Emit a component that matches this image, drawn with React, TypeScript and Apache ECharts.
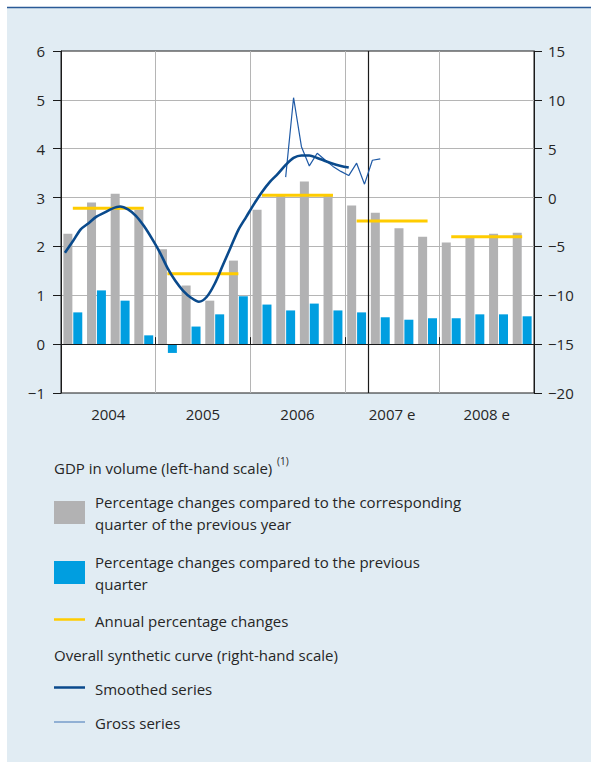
import React, { useEffect, useRef } from "react";
import * as echarts from "echarts";

// ---------- data ----------
const years = ["2004", "2005", "2006", "2007 e", "2008 e"];
const quarters = [
  "2004 Q1", "2004 Q2", "2004 Q3", "2004 Q4",
  "2005 Q1", "2005 Q2", "2005 Q3", "2005 Q4",
  "2006 Q1", "2006 Q2", "2006 Q3", "2006 Q4",
  "2007 Q1", "2007 Q2", "2007 Q3", "2007 Q4",
  "2008 Q1", "2008 Q2", "2008 Q3", "2008 Q4",
];
// GDP y-o-y (% change vs same quarter previous year), left scale
const yoyGrowth = [
  2.26, 2.9, 3.08, 2.75,
  1.94, 1.2, 0.89, 1.71,
  2.75, 3.07, 3.33, 3.03,
  2.84, 2.69, 2.37, 2.2,
  2.08, 2.18, 2.26, 2.28,
];
// GDP q-o-q (% change vs previous quarter), left scale
const qoqGrowth = [
  0.65, 1.1, 0.89, 0.18,
  -0.18, 0.36, 0.61, 0.98,
  0.81, 0.69, 0.83, 0.69,
  0.65, 0.55, 0.5, 0.53,
  0.53, 0.61, 0.61, 0.57,
];
// Annual percentage changes, left scale
const annualGrowth = [2.78, 1.44, 3.05, 2.52, 2.2];
// Overall synthetic curve, smoothed (monthly from Jan 2004), right scale
const smoothedSeries = [
  -5.65, -4.48, -3.25, -2.62, -1.95, -1.54, -1.13, -0.92, -1.21, -1.87, -2.89, -4.15,
  -5.55, -7.19, -8.52, -9.54, -10.25, -10.66, -10.15, -8.82, -6.98, -5.14, -3.3, -1.97,
  -0.64, 0.58, 1.61, 2.42, 3.34, 4.06, 4.31, 4.31, 4.06, 3.75, 3.45, 3.24,
  3.07,
];
// Overall synthetic curve, gross (monthly from May 2006), right scale
const grossStartMonth = 28;
const grossSeries = [2.09, 10.22, 5.21, 3.24, 4.54, 3.85, 3.19, 2.68, 2.25, 3.52, 1.37, 3.82, 3.96];
// forecast boundary (month index from Jan 2004: start of April 2007)
const forecastBoundaryMonth = 39;
const leftTicks = { min: -1, max: 6, interval: 1 };
const rightTicks = { min: -20, max: 15, interval: 5 };

// ---------- styles ----------
const FONT = '"Open Sans", "Noto Sans", sans-serif';
const TEXT = "#262626";
const GRAY_BAR = "#b2b2b3";
const BLUE_BAR = "#009ee0";
const YELLOW = "#ffcc00";
const NAVY = "#0a4a8c";
const GROSS = "#1f5aa6";
const GRID = "#b5b5b5";
const AXIS = "#1a1a1a";

const minus = (v: number) => String(v).replace("-", "\u2212");

export default function App() {
  const ref = useRef<HTMLDivElement>(null);

  useEffect(() => {
    if (!ref.current) return;
    const chart = echarts.init(ref.current, null, { renderer: "svg" });

    const annualSeries = annualGrowth.map((v, y) => ({
      type: "line",
      name: "Annual percentage changes " + years[y],
      xAxisIndex: 1,
      yAxisIndex: 0,
      data: quarters.map((_, q) => (Math.floor(q / 4) === y ? v : null)),
      symbol: "none",
      lineStyle: { color: YELLOW, width: 3 },
      z: 4,
      silent: true,
    }));

    const legendFont = `15px ${FONT}`;
    const txt = (text: string, x: number, y: number, font = legendFont) => ({
      type: "text",
      x,
      y,
      style: { text, font, fill: TEXT, verticalAlign: "middle", align: "left" },
    });

    const option: any = {
      animation: false,
      backgroundColor: "#e1ecf3",
      textStyle: { fontFamily: FONT },
      grid: {
        left: 61,
        right: 57,
        top: 51,
        bottom: 369,
        show: true,
        backgroundColor: "#ffffff",
        borderColor: AXIS,
        borderWidth: 1,
        containLabel: false,
      },
      xAxis: [
        {
          type: "category",
          data: years,
          boundaryGap: true,
          position: "bottom",
          axisLine: { show: true, lineStyle: { color: AXIS, width: 1 } },
          axisTick: { show: true, inside: true, length: 7, lineStyle: { color: AXIS, width: 1 } },
          axisLabel: { color: TEXT, fontSize: 15, fontFamily: FONT, margin: 13 },
          splitLine: { show: true, showMinLine: false, showMaxLine: false, lineStyle: { color: GRID, width: 1 } },
        },
        {
          type: "category",
          data: quarters,
          boundaryGap: true,
          show: false,
        },
        {
          type: "value",
          min: 0,
          max: 60,
          show: false,
        },
      ],
      yAxis: [
        {
          type: "value",
          position: "left",
          min: leftTicks.min,
          max: leftTicks.max,
          interval: leftTicks.interval,
          axisLine: { show: true, lineStyle: { color: AXIS, width: 1 } },
          axisTick: { show: true, inside: false, length: 8, lineStyle: { color: AXIS, width: 1 } },
          axisLabel: { color: TEXT, fontSize: 15, fontFamily: FONT, margin: 16, formatter: minus },
          splitLine: { show: true, showMinLine: false, showMaxLine: false, lineStyle: { color: GRID, width: 1 } },
        },
        {
          type: "value",
          position: "right",
          min: rightTicks.min,
          max: rightTicks.max,
          interval: rightTicks.interval,
          axisLine: { show: true, lineStyle: { color: AXIS, width: 1 } },
          axisTick: { show: true, inside: false, length: 8, lineStyle: { color: AXIS, width: 1 } },
          axisLabel: { color: TEXT, fontSize: 15, fontFamily: FONT, margin: 14, formatter: minus },
          splitLine: { show: false },
        },
      ],
      series: [
        {
          type: "bar",
          name: "Percentage changes compared to the corresponding quarter of the previous year",
          xAxisIndex: 1,
          yAxisIndex: 0,
          data: yoyGrowth,
          barWidth: 9,
          barGap: "10%",
          itemStyle: { color: GRAY_BAR },
          z: 2,
          silent: true,
          markLine: {
            silent: true,
            symbol: "none",
            label: { show: false },
            lineStyle: { color: AXIS, width: 1, type: "solid" },
            data: [{ yAxis: 0 }],
            z: 6,
          },
        },
        {
          type: "bar",
          name: "Percentage changes compared to the previous quarter",
          xAxisIndex: 1,
          yAxisIndex: 0,
          data: qoqGrowth,
          barWidth: 9,
          barGap: "10%",
          itemStyle: { color: BLUE_BAR },
          z: 2,
          silent: true,
        },
        ...annualSeries,
        {
          type: "line",
          name: "Gross series",
          xAxisIndex: 2,
          yAxisIndex: 1,
          data: grossSeries.map((v, i) => [grossStartMonth + i + 0.5, v]),
          symbol: "none",
          lineStyle: { color: GROSS, width: 1.2 },
          z: 5,
          silent: true,
        },
        {
          type: "line",
          name: "Smoothed series",
          xAxisIndex: 2,
          yAxisIndex: 1,
          data: smoothedSeries.map((v, i) => [i + 0.5, v]),
          symbol: "none",
          smooth: 0.3,
          lineStyle: { color: NAVY, width: 2.6 },
          z: 6,
          silent: true,
          markLine: {
            silent: true,
            symbol: "none",
            label: { show: false },
            lineStyle: { color: AXIS, width: 1.2, type: "solid" },
            data: [{ xAxis: forecastBoundaryMonth }],
          },
        },
      ],
      graphic: [
        // white margin outside the panel
        { type: "rect", shape: { x: 0, y: 0, width: 591, height: 7 }, style: { fill: "#ffffff" }, silent: true },
        { type: "rect", shape: { x: 0, y: 0, width: 7, height: 762 }, style: { fill: "#ffffff" }, silent: true },
        { type: "line", shape: { x1: 7, y1: 7.5, x2: 591, y2: 7.5 }, style: { stroke: "#2a5a96", lineWidth: 1.5 }, silent: true },
        // legend
        txt("GDP in volume (left-hand scale)", 54, 468),
        txt("(1)", 277, 461, `10px ${FONT}`),
        { type: "rect", shape: { x: 54, y: 501, width: 31, height: 23 }, style: { fill: GRAY_BAR } },
        txt("Percentage changes compared to the corresponding", 95, 502),
        txt("quarter of the previous year", 95, 524),
        { type: "rect", shape: { x: 54, y: 561, width: 31, height: 23 }, style: { fill: BLUE_BAR } },
        txt("Percentage changes compared to the previous", 95, 562),
        txt("quarter", 95, 584),
        { type: "line", shape: { x1: 54, y1: 619.5, x2: 85, y2: 619.5 }, style: { stroke: YELLOW, lineWidth: 2.5 } },
        txt("Annual percentage changes", 95, 621),
        txt("Overall synthetic curve (right-hand scale)", 54, 655),
        { type: "line", shape: { x1: 54, y1: 687.5, x2: 85, y2: 687.5 }, style: { stroke: NAVY, lineWidth: 2.5 } },
        txt("Smoothed series", 95, 689),
        { type: "line", shape: { x1: 54, y1: 722, x2: 85, y2: 722 }, style: { stroke: "#5b88c0", lineWidth: 1.2 } },
        txt("Gross series", 95, 723),
      ],
    };

    chart.setOption(option);
    return () => chart.dispose();
  }, []);

  return (
    <div
      ref={ref}
      style={{ position: "fixed", left: 0, top: 0, width: 591, height: 762 }}
    />
  );
}
